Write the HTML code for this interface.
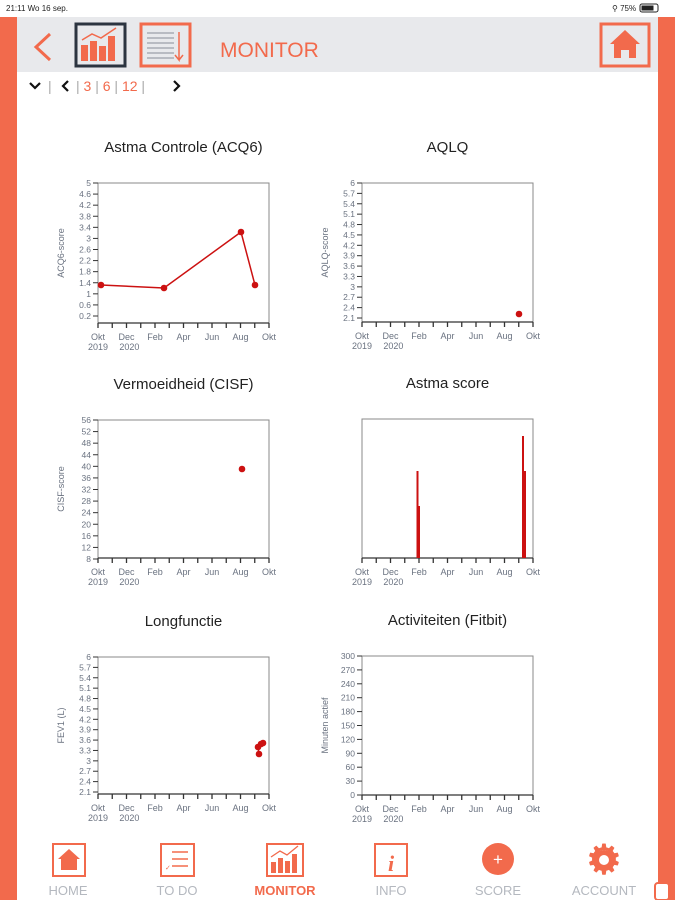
<!DOCTYPE html>
<html><head><meta charset="utf-8"><style>
html,body{margin:0;padding:0;width:675px;height:900px;overflow:hidden;background:#fff;font-family:"Liberation Sans",sans-serif}
svg{display:block}
</style></head><body>
<svg id="s" width="675" height="900" xmlns="http://www.w3.org/2000/svg" font-family="Liberation Sans, sans-serif">
<rect x="0" y="17" width="17" height="883" fill="#f26a4c"/>
<rect x="658" y="17" width="17" height="883" fill="#f26a4c"/>
<rect x="17" y="17" width="641" height="55" fill="#e8e9ec"/>
<text x="6" y="11" font-size="8" fill="#222">21:11   Wo 16 sep.</text>
<text x="612" y="11" font-size="8" fill="#222">⚲ 75%</text>
<rect x="640" y="4" width="18" height="8" rx="2" fill="none" stroke="#222" stroke-width="1"/><rect x="641.5" y="5.5" width="12" height="5" fill="#222"/>
<polyline points="50,34 36,47 50,60" fill="none" stroke="#f26a4c" stroke-width="3"/>
<rect x="76" y="24" width="49" height="42" fill="none" stroke="#2b3440" stroke-width="3"/>
<g fill="#f26a4c"><rect x="81" y="45" width="7" height="16"/><rect x="90" y="41" width="7" height="20"/><rect x="99" y="46" width="7" height="15"/><rect x="108" y="36" width="7" height="25"/></g>
<polyline points="82,40 92,34 101,38 116,28" fill="none" stroke="#f26a4c" stroke-width="1.5"/>
<rect x="141" y="24" width="49" height="42" fill="none" stroke="#f26a4c" stroke-width="3"/>
<g stroke="#9aa0a8" stroke-width="1.2"><line x1="147" y1="33" x2="174" y2="33"/><line x1="147" y1="38" x2="174" y2="38"/><line x1="147" y1="43" x2="174" y2="43"/><line x1="147" y1="48" x2="174" y2="48"/><line x1="147" y1="53" x2="174" y2="53"/><line x1="147" y1="58" x2="174" y2="58"/></g>
<polyline points="179,32 179,60 175,55 179,60 183,55" fill="none" stroke="#f26a4c" stroke-width="1.5"/>
<text x="220" y="57" font-size="21" fill="#f26a4c">MONITOR</text>
<rect x="601" y="24" width="48" height="42" fill="none" stroke="#f26a4c" stroke-width="3"/>
<path d="M625 30 L640 44 L636 44 L636 58 L629 58 L629 50 L621 50 L621 58 L614 58 L614 44 L610 44 Z" fill="#f26a4c"/>
<polyline points="30,83 35,88 40,83" fill="none" stroke="#111" stroke-width="2.2"/>
<text x="48" y="91" font-size="14" fill="#aaa">|</text>
<polyline points="68,81 63,86 68,91" fill="none" stroke="#111" stroke-width="2.2"/>
<text x="76" y="91" font-size="14" fill="#aaa">| <tspan fill="#f26a4c">3</tspan> | <tspan fill="#f26a4c">6</tspan> | <tspan fill="#f26a4c">12</tspan> |</text>
<polyline points="174,81 179,86 174,91" fill="none" stroke="#111" stroke-width="2.2"/>
<g id="charts"></g>
<g id="nav"></g>
</svg>
<script>
var g=document.getElementById('charts'),h='';
function chart(o){
 var x0=o.x,x1=o.x+171,t=o.t,b=o.b;
 h+='<text x="'+(x0+x1)/2+'" y="'+(t-31)+'" font-size="15" fill="#222" text-anchor="middle">'+o.title+'</text>';
 h+='<rect x="'+x0+'" y="'+t+'" width="171" height="'+(b-t)+'" fill="none" stroke="#888" stroke-width="1"/>';
 h+='<line x1="'+x0+'" y1="'+b+'" x2="'+x1+'" y2="'+b+'" stroke="#333" stroke-width="1.3"/>';
 for(var i=0;i<=12;i++){var xx=x0+i*171/12;h+='<line x1="'+xx+'" y1="'+b+'" x2="'+xx+'" y2="'+(b+5)+'" stroke="#333" stroke-width="1.3"/>';}
 var ml=['Okt','Dec','Feb','Apr','Jun','Aug','Okt'];
 for(var i=0;i<7;i++){h+='<text x="'+(x0+i*28.5)+'" y="'+(b+17)+'" font-size="9" fill="#6a7280" text-anchor="middle">'+ml[i]+'</text>';}
 h+='<text x="'+x0+'" y="'+(b+27)+'" font-size="9" fill="#6a7280" text-anchor="middle">2019</text>';
 h+='<text x="'+(x0+28.5*1.1)+'" y="'+(b+27)+'" font-size="9" fill="#6a7280" text-anchor="middle">2020</text>';
 if(o.labels){var n=o.labels.length;for(var i=0;i<n;i++){var yy=t+i*(o.lb-t)/(n-1);
  h+='<line x1="'+(x0-5)+'" y1="'+yy+'" x2="'+x0+'" y2="'+yy+'" stroke="#333" stroke-width="1"/>';
  h+='<text x="'+(x0-7)+'" y="'+(yy+3)+'" font-size="8.5" fill="#6a7280" text-anchor="end">'+o.labels[i]+'</text>';}
  var cy=(t+b)/2;h+='<text transform="translate('+(x0-34)+','+cy+') rotate(-90)" font-size="9" fill="#6a7280" text-anchor="middle">'+o.yl+'</text>';}
 h+=o.extra||'';
}
function lab(a,b,s,d){var r=[];for(var v=a;v>=b-1e-9;v-=s){r.push(+v.toFixed(d));}return r;}
var red='#cc1111';
chart({x:98,t:183,b:323,lb:316,title:'Astma Controle (ACQ6)',yl:'ACQ6-score',labels:lab(5,0.2,0.4,1),
 extra:'<polyline points="101,285 164,288 241,232 255,285" fill="none" stroke="'+red+'" stroke-width="1.5"/><g fill="'+red+'"><circle cx="101" cy="285" r="3.3"/><circle cx="164" cy="288" r="3.3"/><circle cx="241" cy="232" r="3.3"/><circle cx="255" cy="285" r="3.3"/></g>'});
chart({x:362,t:183,b:322,lb:318,title:'AQLQ',yl:'AQLQ-score',labels:lab(6,2.1,0.3,1),
 extra:'<circle cx="519" cy="314" r="3.3" fill="'+red+'"/>'});
chart({x:98,t:420,b:558,lb:559,title:'Vermoeidheid (CISF)',yl:'CISF-score',labels:lab(56,8,4,0),
 extra:'<circle cx="242" cy="469" r="3.3" fill="'+red+'"/>'});
chart({x:362,t:419,b:558,title:'Astma score',
 extra:'<g fill="'+red+'"><rect x="416.5" y="471" width="2" height="87"/><rect x="418" y="506" width="2" height="52"/><rect x="522" y="436" width="2" height="122"/><rect x="523" y="471" width="3" height="87"/></g>'});
chart({x:98,t:657,b:794,lb:792,title:'Longfunctie',yl:'FEV1 (L)',labels:lab(6,2.1,0.3,1),
 extra:'<polyline points="259,754 258,747 261,744 263,743" fill="none" stroke="'+red+'" stroke-width="1.5"/><g fill="'+red+'"><circle cx="259" cy="754" r="3.3"/><circle cx="258" cy="747" r="3.3"/><circle cx="261" cy="744" r="3.3"/><circle cx="263" cy="743" r="3.3"/></g>'});
chart({x:362,t:656,b:795,lb:795,title:'Activiteiten (Fitbit)',yl:'Minuten actief',labels:lab(300,0,30,0)});
g.innerHTML=h;
var n='',O='#f26a4c';
n+='<rect x="53" y="844" width="32" height="32" fill="none" stroke="'+O+'" stroke-width="2"/><path d="M69 849 L80 859 L77 859 L77 870 L61 870 L61 859 L58 859 Z" fill="'+O+'"/>';
n+='<rect x="161" y="844" width="33" height="32" fill="none" stroke="'+O+'" stroke-width="2"/><g stroke="'+O+'" stroke-width="1.5"><line x1="172" y1="852" x2="188" y2="852"/><line x1="172" y1="859" x2="188" y2="859"/><line x1="172" y1="866" x2="188" y2="866"/></g><text x="165" y="870" font-size="7" fill="'+O+'">✓</text>';
n+='<rect x="267" y="844" width="36" height="32" fill="none" stroke="'+O+'" stroke-width="2"/><g fill="'+O+'"><rect x="271" y="862" width="5" height="11"/><rect x="278" y="858" width="5" height="15"/><rect x="285" y="861" width="5" height="12"/><rect x="292" y="854" width="5" height="19"/></g><polyline points="271,857 280,851 287,855 298,846" fill="none" stroke="'+O+'" stroke-width="1.3"/>';
n+='<rect x="375" y="844" width="32" height="32" fill="none" stroke="'+O+'" stroke-width="2"/><text x="391" y="871" font-size="22" font-weight="bold" font-style="italic" font-family="Liberation Serif, serif" fill="'+O+'" text-anchor="middle">i</text>';
n+='<circle cx="498" cy="859" r="16" fill="'+O+'"/><text x="498" y="865" font-size="17" fill="#fff" text-anchor="middle">+</text>';
n+='<text x="604" y="874" font-size="42" fill="'+O+'" text-anchor="middle">⚙</text>';
n+='<circle cx="604" cy="860" r="10" fill="'+O+'"/><circle cx="604" cy="860" r="5" fill="#fff"/>';
var L=[['HOME',68],['TO DO',177],['MONITOR',285],['INFO',391],['SCORE',498],['ACCOUNT',604]];
L.forEach(function(l){n+='<text x="'+l[1]+'" y="895" font-size="13" text-anchor="middle" '+(l[0]=='MONITOR'?'fill="'+O+'" font-weight="bold"':'fill="#b4b8bf"')+'>'+l[0]+'</text>';});
n+='<rect x="655" y="883" width="14" height="17" rx="3" fill="#fff" stroke="'+O+'" stroke-width="2"/>';
document.getElementById('nav').innerHTML=n;
</script>
</body></html>
